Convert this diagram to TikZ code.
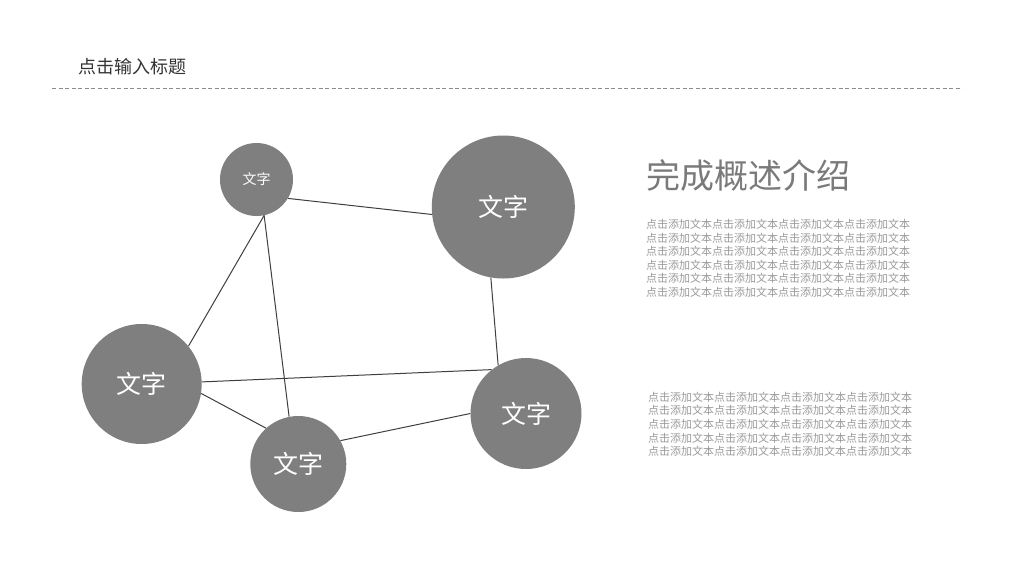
\documentclass[tikz,border=0pt]{standalone}
\usepackage{fontspec}
\setmainfont{Noto Sans CJK SC}
\begin{document}
\begin{tikzpicture}[x=1pt,y=-1pt,
  bubble/.style={circle,fill=bubblegray,draw=none,inner sep=0pt,text=white,font=\fontsize{25}{25}\selectfont},
  link/.style={draw=linkgray,line width=1pt},
  bodytext/.style={anchor=base west,inner sep=0pt,text=bodygray,font=\fontsize{11}{11}\selectfont}]
\definecolor{bubblegray}{HTML}{7F7F7F}
\definecolor{linkgray}{HTML}{3F3F3F}
\definecolor{bodygray}{HTML}{9A9A9A}
\definecolor{headgray}{HTML}{7A7A7A}
\definecolor{titlegray}{HTML}{333333}
\definecolor{dashgray}{HTML}{8C8C8C}
\useasboundingbox[fill=white] (0,0) rectangle (1024,576);
% title and dashed rule
\node[anchor=base west,inner sep=0pt,text=titlegray,font=\fontsize{18}{18}\selectfont] (title) at (78.5,73.8) {点击输入标题};
\coordinate (ruleL) at (52,88);
\coordinate (ruleR) at (962,88);
\draw[dashgray,line width=1pt,dash pattern=on 4pt off 2.5pt] (ruleL) -- (ruleR);
% circles
\node[bubble,minimum size=73pt,font=\fontsize{14}{14}\selectfont] (c1) at (256.5,179.5) {文字};
\node[bubble,minimum size=143pt] (c2) at (503.3,207) {文字};
\node[bubble,minimum size=120pt] (c3) at (141.7,384) {文字};
\node[bubble,minimum size=96pt] (c4) at (298.3,464) {文字};
\node[bubble,minimum size=111pt] (c5) at (526,413.5) {文字};
% connectors
\draw[link] (c1.-31) -- (c2.{186.5});
\draw[link] (c1.-78) -- (c3.39);
\draw[link] (c1.-78) -- (c4.101);
\draw[link] (c2.-100) -- (c5.120);
\draw[link] (c3.2) -- (c5.128);
\draw[link] (c3.-9) -- (c4.132);
\draw[link] (c4.29) -- (c5.180);
% right-hand text
\node[anchor=base west,inner sep=0pt,text=headgray,font=\fontsize{34}{34}\selectfont] (head) at (646,188.9) {完成概述介绍};
\foreach \i in {0,...,5}{
  \node[bodytext] (pa\i) at (646,228.7+13.5*\i) {点击添加文本点击添加文本点击添加文本点击添加文本};
}
\foreach \i in {0,...,4}{
  \node[bodytext] (pb\i) at (648,401.2+13.6*\i) {点击添加文本点击添加文本点击添加文本点击添加文本};
}
\end{tikzpicture}
\end{document}
